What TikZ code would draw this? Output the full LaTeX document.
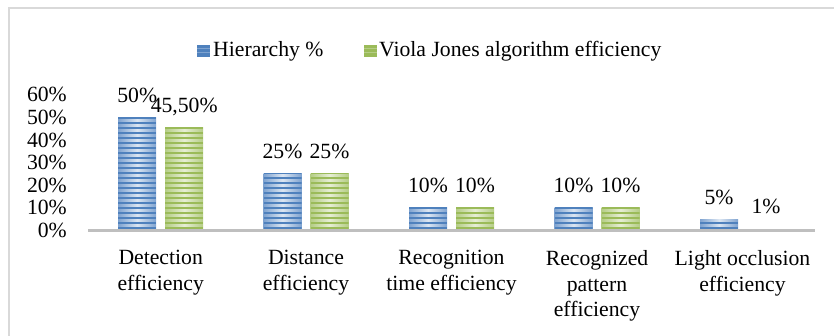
\documentclass[tikz,border=0pt]{standalone}
\usepackage{fontspec}
\setmainfont{Liberation Serif}
\definecolor{bluedark}{HTML}{4F81BD}
\definecolor{blueedge}{HTML}{7FA3D0}
\definecolor{bluelight}{HTML}{DCE6F2}
\definecolor{greendark}{HTML}{9BBB59}
\definecolor{greenedge}{HTML}{B5CD86}
\definecolor{greenlight}{HTML}{E6EED5}
\definecolor{framegray}{HTML}{D9D9D9}
\definecolor{axisgray}{HTML}{BFBFBF}
\newcommand\stripedbar[5]{%
  \pgfmathsetmacro\bartop{230.5-2.26*#2}%
  \begin{scope}
    \clip (#1-19,230) rectangle (#1+19,\bartop);
    \shade[left color=#4edge,right color=#4edge,middle color=#4light] (#1-19,230) rectangle (#1+19,\bartop);
    \foreach \k in {0,...,25}{
      \fill[#3] (#1-19,230-5*\k-0.5) rectangle (#1+19,230-5*\k-3);
    }
  \end{scope}
  \node[lbl,anchor=base] (#4-#1) at (#1,\bartop-15) {#5};
}
\begin{document}
\begin{tikzpicture}[x=1pt,y=-1pt,
  lbl/.style={font=\fontsize{21.7}{25.5}\selectfont,inner sep=0pt},
  catlbl/.style={lbl,anchor=north,align=center},
  ticklbl/.style={lbl,anchor=east},
]
\useasboundingbox (0,0) rectangle (834,336);
\fill[white] (0,0) rectangle (834,336);
\draw[framegray,line width=2pt] (8.5,336) -- (8.5,8.5) -- (834,8.5);

% legend
\fill[bluedark] (197,45) rectangle (210,57);
\fill[blueedge] (197,48) rectangle (210,49.5);
\fill[blueedge] (197,52) rectangle (210,53.5);
\node[lbl,anchor=base west] (leg1) at (213,57) {Hierarchy \%};
\fill[greendark] (364,45) rectangle (377,57);
\fill[greenedge] (364,48) rectangle (377,49.5);
\fill[greenedge] (364,52) rectangle (377,53.5);
\node[lbl,anchor=base west] (leg2) at (379,57) {Viola Jones algorithm efficiency};

% y tick labels
\foreach \v in {0,10,...,60}{
  \node[ticklbl] (tick\v) at (67,230.5-2.26*\v) {\v\%};
}

% bars
\stripedbar{137.2}{50}{bluedark}{blue}{50\%}
\stripedbar{184.2}{45.5}{greendark}{green}{45,50\%}
\stripedbar{282.5}{25}{bluedark}{blue}{25\%}
\stripedbar{329.5}{25}{greendark}{green}{25\%}
\stripedbar{428}{10}{bluedark}{blue}{10\%}
\stripedbar{475}{10}{greendark}{green}{10\%}
\stripedbar{573.5}{10}{bluedark}{blue}{10\%}
\stripedbar{620.5}{10}{greendark}{green}{10\%}
\stripedbar{719}{5}{bluedark}{blue}{5\%}
\stripedbar{766}{0.6}{greendark}{green}{}
\node[lbl,anchor=base] (green-1pct) at (766,228.2-15) {1\%};

% axis
\coordinate (axL) at (88,230.5);
\coordinate (axR) at (815,230.5);
\draw[axisgray,line width=3pt] (axL) -- (axR);

% categories
\node[catlbl] (c1) at (160.7,250.3) {Detection\\efficiency};
\node[catlbl] (c2) at (306,250.3) {Distance\\efficiency};
\node[catlbl] (c3) at (451.5,250.3) {Recognition\\time efficiency};
\node[catlbl] (c4) at (597,250.3) {Recognized\\pattern\\efficiency};
\node[catlbl] (c5) at (742.5,250.3) {Light occlusion\\efficiency};
\end{tikzpicture}
\end{document}
